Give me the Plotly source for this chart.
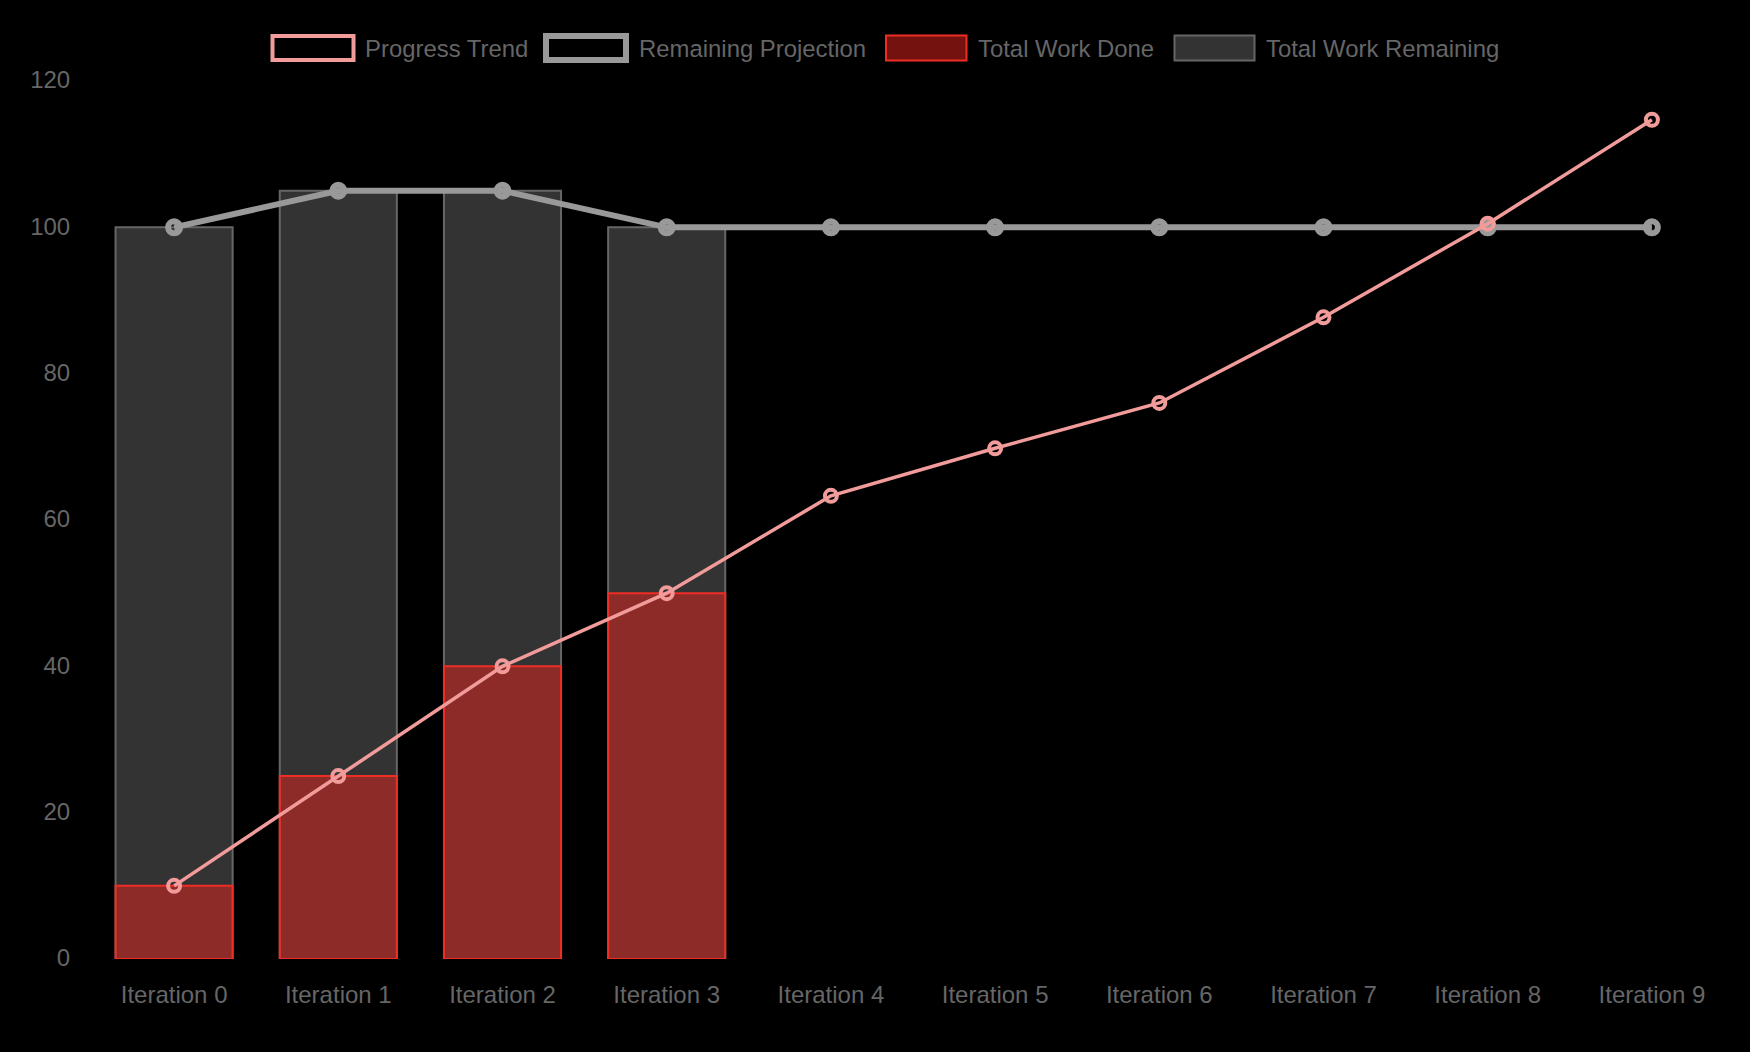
import plotly.graph_objects as go

categories = [f"Iteration {i}" for i in range(10)]
progress_trend = [10, 25, 40, 50, 63.3, 69.8, 76, 87.7, 100.5, 114.7]
remaining_projection = [100, 105, 105, 100, 100, 100, 100, 100, 100, 100]
bar_categories = categories[:4]
work_done = [10, 25, 40, 50]
work_total = [100, 105, 105, 100]

W, H = 1750, 1052
L, R, T, B = 92, 1734, 81, 959
FONT = "Liberation Sans, Helvetica, Arial, sans-serif"
TXT = "#666666"
PINK = "#f29b9b"
GREY = "#999999"
RED_FILL = "rgba(230,36,28,0.5)"
RED_LINE = "#ee2d24"
GREY_FILL = "rgba(102,102,102,0.5)"
GREY_LINE = "#666666"


def px(x):
    return (x - L) / (R - L)


def py(y):
    return (B - y) / (B - T)


fig = go.Figure()
fig.add_bar(x=bar_categories, y=work_total, width=0.713, name="Total Work Remaining",
            marker=dict(color=GREY_FILL, line=dict(color=GREY_LINE, width=2)))
fig.add_bar(x=bar_categories, y=work_done, width=0.713, name="Total Work Done",
            marker=dict(color=RED_FILL, line=dict(color=RED_LINE, width=2)))
fig.add_scatter(x=categories, y=remaining_projection, mode="lines+markers", name="Remaining Projection",
                line=dict(color=GREY, width=6),
                marker=dict(size=12, color="rgba(0,0,0,0)", line=dict(color=GREY, width=6)))
fig.add_scatter(x=categories, y=progress_trend, mode="lines+markers", name="Progress Trend",
                line=dict(color=PINK, width=3.5),
                marker=dict(size=12, color="rgba(0,0,0,0)", line=dict(color=PINK, width=4)))

legend_items = [
    ("Progress Trend", 272.5, 36, 353.5, 60, "rgba(0,0,0,0)", PINK, 4, 365),
    ("Remaining Projection", 546, 36, 626, 60, "rgba(0,0,0,0)", GREY, 6, 638.5),
    ("Total Work Done", 886, 35.5, 966.5, 60.5, RED_FILL, RED_LINE, 2, 978),
    ("Total Work Remaining", 1174.5, 35.5, 1254.5, 60.5, GREY_FILL, GREY_LINE, 2, 1266),
]
for label, x0, y0, x1, y1, fill, edge, lw, tx in legend_items:
    fig.add_shape(type="rect", xref="paper", yref="paper", x0=px(x0), x1=px(x1), y0=py(y0), y1=py(y1),
                  fillcolor=fill, line=dict(color=edge, width=lw))
    fig.add_annotation(xref="paper", yref="paper", x=px(tx), y=py(48), text=label, showarrow=False,
                       xanchor="left", yanchor="middle", borderpad=0, borderwidth=0,
                       font=dict(family=FONT, size=23.9, color=TXT))

fig.update_layout(
    width=W, height=H, barmode="overlay", showlegend=False,
    paper_bgcolor="#000000", plot_bgcolor="#000000",
    margin=dict(l=L, r=W - R, t=T, b=H - B, pad=0),
    font=dict(family=FONT, size=24, color=TXT),
    xaxis=dict(type="category", categoryorder="array", categoryarray=categories, range=[-0.5, 9.5],
               showgrid=False, zeroline=False, showline=False, ticks="outside", ticklen=14,
               tickcolor="rgba(0,0,0,0)", tickfont=dict(family=FONT, size=24, color=TXT)),
    yaxis=dict(range=[0, 120], tickvals=[0, 20, 40, 60, 80, 100, 120], showgrid=False, zeroline=False,
               showline=False, ticks="outside", ticklen=16, tickcolor="rgba(0,0,0,0)",
               ticklabelshift=-1, tickfont=dict(family=FONT, size=24, color=TXT)),
)
fig.write_html(
    "out.html",
    config={"displayModeBar": False},
    post_script="document.documentElement.style.background='#000';"
                "document.body.style.margin='0';document.body.style.background='#000';"
                "document.body.style.overflow='hidden';",
)
